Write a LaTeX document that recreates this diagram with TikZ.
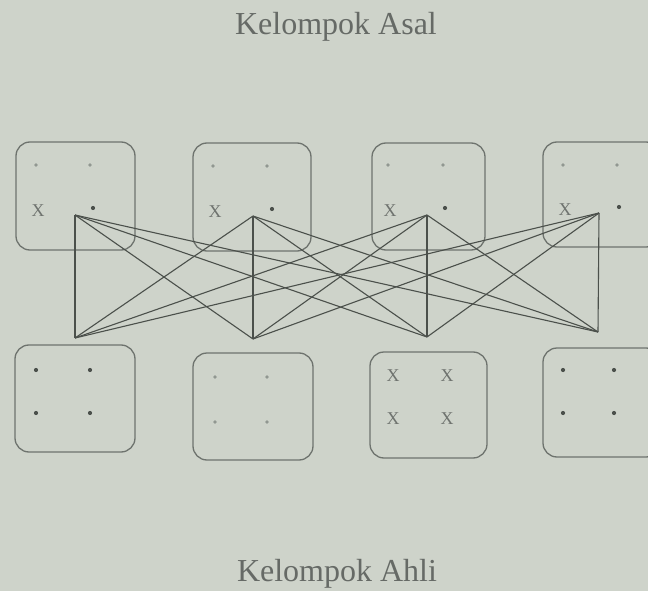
\documentclass[tikz,border=0pt]{standalone}
\usepackage{fontspec}
\setmainfont{Liberation Serif}
\definecolor{bg}{RGB}{206,211,202}
\definecolor{ink}{RGB}{75,80,75}
\definecolor{boxc}{RGB}{110,115,110}
\definecolor{faint}{RGB}{145,151,145}
\begin{document}
\begin{tikzpicture}[x=1pt,y=-1pt,
  box/.style={draw=boxc, line width=1.3pt, rounded corners=14pt, inner sep=0pt},
  link/.style={draw=ink, line width=1.1pt},
  dotmk/.style={circle, fill=ink, inner sep=0pt, minimum size=4.2pt},
  fdot/.style={circle, fill=faint, inner sep=0pt, minimum size=3.6pt},
  xmk/.style={font=\fontsize{18}{18}\selectfont, text=ink!80, inner sep=0pt},
  ttl/.style={font=\fontsize{32}{32}\selectfont, text=ink!85, inner sep=0pt}]
\useasboundingbox (0,0) rectangle (648,591);
\fill[bg] (0,0) rectangle (648,591);
\clip (0,0) rectangle (648,591);
% titles
\node[ttl] (tA) at (336,27) {Kelompok Asal};
\node[ttl] (tB) at (337,574) {Kelompok Ahli};
% top boxes
\node[box, minimum width=119pt, minimum height=108pt] (a1) at (75.5,196) {};
\node[box, minimum width=118pt, minimum height=108pt] (a2) at (252,197) {};
\node[box, minimum width=113pt, minimum height=107pt] (a3) at (428.5,196.5) {};
\node[box, minimum width=117pt, minimum height=105pt] (a4) at (601.5,194.5) {};
% bottom boxes
\node[box, minimum width=120pt, minimum height=107pt] (e1) at (75,398.5) {};
\node[box, minimum width=120pt, minimum height=107pt] (e2) at (253,406.5) {};
\node[box, minimum width=117pt, minimum height=106pt] (e3) at (428.5,405) {};
\node[box, minimum width=117pt, minimum height=109pt] (e4) at (601.5,402.5) {};
% top box contents
\node[fdot] (a1p) at (36,165) {}; \node[fdot] (a1q) at (90,165) {};
\node[xmk] (a1x) at (38,211) {X}; \node[dotmk] (a1d) at (93,208) {};
\node[fdot] (a2p) at (213,166) {}; \node[fdot] (a2q) at (267,166) {};
\node[xmk] (a2x) at (215,212) {X}; \node[dotmk] (a2d) at (272,209) {};
\node[fdot] (a3p) at (388,165) {}; \node[fdot] (a3q) at (443,165) {};
\node[xmk] (a3x) at (390,211) {X}; \node[dotmk] (a3d) at (445,208) {};
\node[fdot] (a4p) at (563,165) {}; \node[fdot] (a4q) at (617,165) {};
\node[xmk] (a4x) at (565,210) {X}; \node[dotmk] (a4d) at (619,207) {};
% bottom box contents
\node[dotmk] (e1a) at (36,370) {}; \node[dotmk] (e1b) at (90,370) {};
\node[dotmk] (e1c) at (36,413) {}; \node[dotmk] (e1d) at (90,413) {};
\node[fdot] (e2a) at (215,377) {}; \node[fdot] (e2b) at (267,377) {};
\node[fdot] (e2c) at (215,422) {}; \node[fdot] (e2d) at (267,422) {};
\node[xmk] (e3a) at (393,376) {X}; \node[xmk] (e3b) at (447,376) {X};
\node[xmk] (e3c) at (393,419) {X}; \node[xmk] (e3d) at (447,419) {X};
\node[dotmk] (e4a) at (563,370) {}; \node[dotmk] (e4b) at (614,370) {};
\node[dotmk] (e4c) at (563,413) {}; \node[dotmk] (e4d) at (614,413) {};
% connection points
\coordinate (t1) at (75,215);
\coordinate (t2) at (253,216);
\coordinate (t3) at (427,215);
\coordinate (t4) at (599,213);
\coordinate (b1) at (75,338);
\coordinate (b2) at (253,339);
\coordinate (b3) at (427,337);
\coordinate (b4) at (598,332);
\foreach \i in {1,2,3,4}{
  \foreach \j in {1,2,3,4}{
    \draw[link] (t\i) -- (b\j);
  }
}
\end{tikzpicture}
\end{document}
